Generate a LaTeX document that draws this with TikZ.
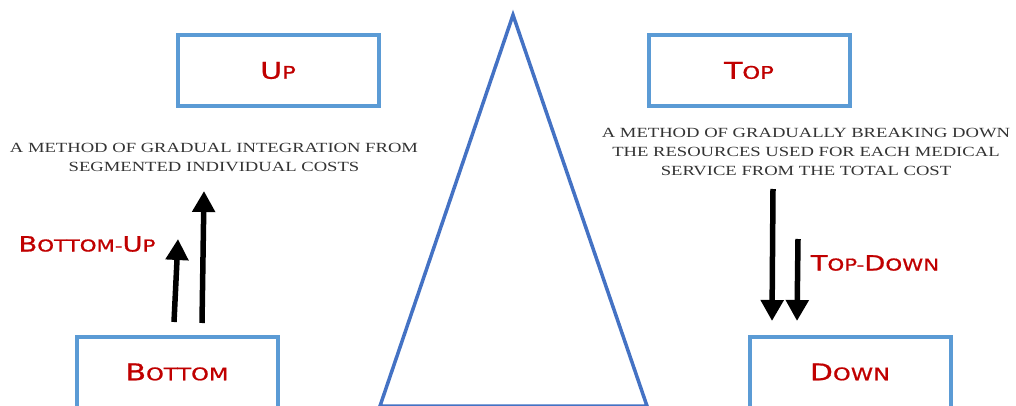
\documentclass[tikz,border=0pt]{standalone}
\usepackage{fontspec}
\usetikzlibrary{arrows.meta,shadows}
\newfontfamily\headfont[FakeStretch=1.3,FakeBold=0.8]{DejaVu Sans}
\newfontfamily\descfont[FakeStretch=1.33]{Liberation Serif}
\definecolor{boxblue}{HTML}{5B9BD5}
\definecolor{triblue}{HTML}{4472C4}
\definecolor{headred}{HTML}{C00000}
\definecolor{descgray}{HTML}{333333}
\newcommand{\bigA}{\fontsize{23}{23}\selectfont}
\newcommand{\smallA}{\fontsize{17.4}{17.4}\selectfont}
\newcommand{\bigB}{\fontsize{21}{21}\selectfont}
\newcommand{\smallB}{\fontsize{16.4}{16.4}\selectfont}
\tikzset{
  levelbox/.style={draw=boxblue, line width=4pt, fill=white, minimum width=201pt,
    minimum height=71pt, inner sep=0pt, text=headred, font=\headfont},
  methodlabel/.style={text=headred, font=\headfont, inner sep=0pt},
  desc/.style={text=descgray, font=\descfont\fontsize{14}{19}\selectfont, align=center, inner sep=0pt},
  bigarrow/.style={line width=5.5pt, -{Triangle[width=22pt,length=21pt]}},
}
\begin{document}
\begin{tikzpicture}[x=1pt,y=-1pt]
\useasboundingbox (0,0) rectangle (1016,406);
\clip (0,0) rectangle (1016,406);
% triangle
\draw[triblue, line width=3.5pt, fill=white, line join=miter,
  drop shadow={shadow xshift=2pt, shadow yshift=-2pt, opacity=0.35}]
  (513,15) -- (647,406) -- (380,406) -- cycle;
% boxes
\node[levelbox] (up) at (278,70.5) {{\bigA U}{\smallA P}};
\node[levelbox] (top) at (749,70.5) {{\bigA T}{\smallA OP}};
\node[levelbox] (bottom) at (177,372) {{\bigA B}{\smallA OTTOM}};
\node[levelbox] (down) at (850,372) {{\bigA D}{\smallA OWN}};
% descriptions
\node[desc] (ldesc) at (214,157.5) {A METHOD OF GRADUAL INTEGRATION FROM\\SEGMENTED INDIVIDUAL COSTS};
\node[desc] (rdesc) at (806,151.5) {A METHOD OF GRADUALLY BREAKING DOWN\\THE RESOURCES USED FOR EACH MEDICAL\\SERVICE FROM THE TOTAL COST};
% method labels
\node[methodlabel] (bu) at (87,244) {{\bigB B}{\smallB OTTOM-}{\bigB U}{\smallB P}};
\node[methodlabel] (td) at (875,263) {{\bigB T}{\smallB OP-}{\bigB D}{\smallB OWN}};
% arrows
\coordinate (a1s) at (174,322); \coordinate (a1e) at (178,239);
\coordinate (a2s) at (202,323); \coordinate (a2e) at (204,191);
\coordinate (a3s) at (773,189); \coordinate (a3e) at (772,321);
\coordinate (a4s) at (798,239); \coordinate (a4e) at (797,321);
\draw[bigarrow] (a1s) -- (a1e);
\draw[bigarrow] (a2s) -- (a2e);
\draw[bigarrow] (a3s) -- (a3e);
\draw[bigarrow] (a4s) -- (a4e);
\end{tikzpicture}
\end{document}
